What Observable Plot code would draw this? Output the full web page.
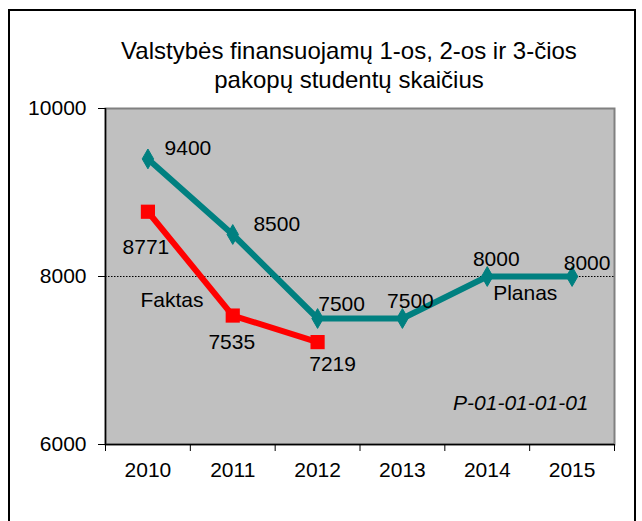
<!DOCTYPE html>
<html>
<head>
<meta charset="utf-8">
<script src="https://cdn.jsdelivr.net/npm/d3@7"></script>
<script src="https://cdn.jsdelivr.net/npm/@observablehq/plot@0.6"></script>
<style>
  html, body { margin: 0; padding: 0; background: #fff; overflow: hidden; }
  #wrap { position: relative; width: 642px; height: 521px; overflow: hidden; font-family: "Liberation Sans", Arial, sans-serif; }
  #border { position: absolute; left: 8px; top: 9px; width: 628px; height: 600px; border: 2px solid #000; box-sizing: border-box; }
  #title { position: absolute; left: 56px; width: 586px; top: 36px; text-align: center; font-size: 24px; line-height: 29px; color: #000; }
  #chart { position: absolute; left: 0; top: 0; }
</style>
</head>
<body>
<div id="wrap">
  <div id="border"></div>
  <div id="chart"></div>
  <div id="title">Valstybės finansuojamų 1-os, 2-os ir 3-čios<br>pakopų studentų skaičius</div>
</div>
<script>
// ---- data ----
const years = [2010, 2011, 2012, 2013, 2014, 2015];
const planValues = [9400, 8500, 7500, 7500, 8000, 8000];
const factYears = [2010, 2011, 2012];
const factValues = [8771, 7535, 7219];
const yTicks = [6000, 8000, 10000];
const planName = "Planas";
const factName = "Faktas";
const codeLabel = "P-01-01-01-01";

// ---- layout (label offsets in px) ----
const planLabelOffsets = [[40, -11], [44, -10], [24, -14], [8, -17], [9, -17], [15, -13]];
const factLabelOffsets = [[-2, 36], [-1, 27], [15, 22]];

const plan = years.map((year, i) => ({year, value: planValues[i]}));
const fact = factYears.map((year, i) => ({year, value: factValues[i]}));
const edges = [...years.map(y => y - 0.5), years[years.length - 1] + 0.5];

const teal = "#008080";
const red = "#FF0000";

const chart = Plot.plot({
  width: 642,
  height: 521,
  marginLeft: 105,
  marginRight: 28,
  marginTop: 108,
  marginBottom: 77,
  style: {fontFamily: "'Liberation Sans', Arial, sans-serif", fontSize: "21px", background: "transparent", color: "#000", overflow: "visible"},
  x: {type: "linear", domain: [edges[0], edges[edges.length - 1]], label: null},
  y: {domain: [yTicks[0], yTicks[yTicks.length - 1]], label: null},
  marks: [
    Plot.frame({fill: "#C0C0C0", stroke: "#808080", strokeWidth: 2}),
    Plot.ruleY([8000], {stroke: "#000", strokeWidth: 1, strokeDasharray: "1.5,1.5"}),
    Plot.ruleX([edges[0]], {stroke: "#000", strokeWidth: 1.5}),
    Plot.ruleY([yTicks[0]], {stroke: "#000", strokeWidth: 1.5}),
    Plot.axisY({ticks: yTicks, tickSize: 7, tickPadding: 12, tickFormat: d3.format("d"), fontSize: 21, stroke: "#000", label: null}),
    Plot.axisX({ticks: years, tickSize: 0, tickPadding: 18, tickFormat: d3.format("d"), fontSize: 21, label: null}),
    Plot.axisX({ticks: edges, tickSize: 7, tickFormat: () => "", stroke: "#000", label: null}),
    Plot.line(plan, {x: "year", y: "value", stroke: teal, strokeWidth: 6}),
    Plot.dot(plan, {x: "year", y: "value", symbol: "diamond", r: 6, fill: teal, stroke: teal, strokeWidth: 1}),
    Plot.line(fact, {x: "year", y: "value", stroke: red, strokeWidth: 6}),
    Plot.dot(fact, {x: "year", y: "value", symbol: "square", r: 8, fill: red}),
    ...plan.map((d, i) => Plot.text([d], {x: "year", y: "value", text: d => String(d.value), dx: planLabelOffsets[i][0], dy: planLabelOffsets[i][1], fontSize: 21, fill: "#000"})),
    ...fact.map((d, i) => Plot.text([d], {x: "year", y: "value", text: d => String(d.value), dx: factLabelOffsets[i][0], dy: factLabelOffsets[i][1], fontSize: 21, fill: "#000"})),
    Plot.text([fact[0]], {x: "year", y: "value", text: () => factName, dx: 24, dy: 89, fontSize: 21, fill: "#000"}),
    Plot.text([plan[4]], {x: "year", y: "value", text: () => planName, dx: 38, dy: 17, fontSize: 21, fill: "#000"}),
    Plot.text([codeLabel], {frameAnchor: "bottom-right", text: d => d, dx: -26, dy: -35, textAnchor: "end", fontSize: 21, fontStyle: "italic", fill: "#000"})
  ]
});
document.getElementById("chart").appendChild(chart);
</script>
</body>
</html>
